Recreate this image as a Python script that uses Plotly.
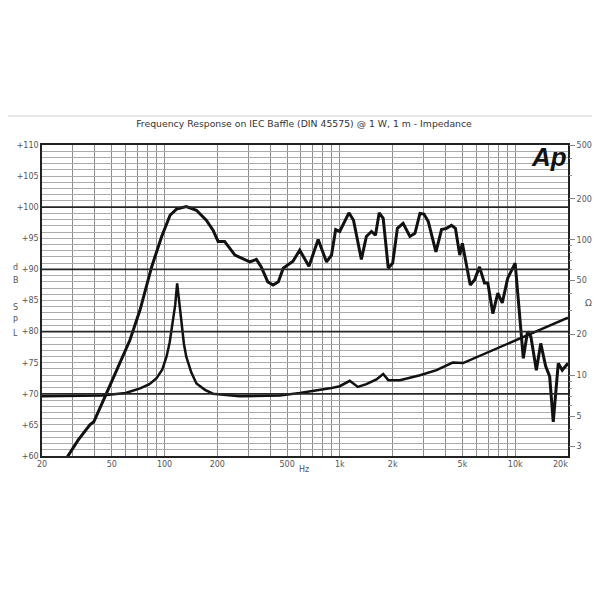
import numpy as np
import plotly.graph_objects as go

# ---- data ----
spl_freq = [26, 32.2, 37.5, 39.5, 45.7, 63.4, 72.5, 84.4, 96.3, 107.5, 117, 133, 152, 173, 189,
            202, 220, 252, 306, 334, 356, 388, 416, 446, 475, 540, 590, 666, 752, 839, 896,
            946, 998, 1126, 1196, 1326, 1416, 1514, 1596, 1676, 1766, 1888, 2000, 2128, 2294,
            2508, 2680, 2862, 3016, 3192, 3530, 3800, 4056, 4330, 4560, 4826, 4994, 5540,
            5858, 6256, 6680, 6980, 7452, 7960, 8434, 9066, 9992, 11120, 11760, 12280, 13200,
            13980, 14920, 15720, 16480, 17600, 18540, 20000]
spl_db = [58.5, 62.6, 65.0, 65.5, 69.5, 78.6, 83.5, 90.4, 95.3, 98.7, 99.7, 100.1, 99.5, 97.9, 96.3,
          94.5, 94.5, 92.3, 91.2, 91.6, 90.4, 88.0, 87.5, 88.0, 90.2, 91.3, 93.1, 90.5, 94.8, 91.2, 92.3,
          96.4, 96.1, 99.1, 97.9, 91.6, 95.3, 96.1, 95.5, 99.1, 98.2, 90.2, 91.0, 96.6, 97.4,
          95.3, 95.8, 99.0, 98.9, 97.7, 92.8, 96.4, 96.6, 97.1, 96.6, 92.3, 94.2, 87.5,
          88.3, 90.4, 87.8, 87.8, 82.9, 86.2, 84.6, 88.6, 91.0, 75.7, 80.0, 79.2, 73.8,
          78.1, 74.4, 72.8, 65.5, 74.9, 73.8, 74.9]

imp_freq = [20, 44, 60, 72.5, 82, 90, 97, 102.6, 107, 111, 115, 118, 121, 125, 129, 133, 142, 152,
            170, 189, 268, 454, 590, 876, 998, 1138, 1266, 1416, 1616, 1766, 1888, 2198, 2862,
            3558, 4400, 5040, 6256, 7792, 9690, 12000, 14920, 20000]
imp_ohm = [7.0, 7.1, 7.4, 8.0, 8.6, 9.5, 11.0, 13.7, 17.5, 24.2, 33.0, 47.6, 35.0, 22.8, 17.0, 13.7, 10.5, 8.7,
           7.8, 7.3, 7.0, 7.1, 7.4, 8.0, 8.3, 9.1, 8.2, 8.6, 9.3, 10.2, 9.2, 9.2, 10.0,
           10.9, 12.4, 12.3, 13.9, 15.8, 17.7, 20.0, 22.8, 26.6]

x_labels = {20: "20", 50: "50", 100: "100", 200: "200", 500: "500", 1000: "1k", 2000: "2k",
            5000: "5k", 10000: "10k", 20000: "20k\u00a0\u00a0\u00a0\u00a0\u00a0\u00a0"}
db_labels = {v: "+%d" % v for v in range(60, 111, 5)}
ohm_ticks = [3, 5, 10, 20, 50, 100, 200, 500]

title = "Frequency Response on IEC Baffle (DIN 45575) @ 1 W, 1 m - Impedance"

# gridline positions
x_grid = [m * 10 ** e for e in range(1, 5) for m in range(1, 10) if 20 <= m * 10 ** e <= 20000]
x_major = [200, 2000]
db_grid = list(range(60, 111))
db_major = [70, 80, 90, 100]
ohm_minor = [m * 10 ** e for e in range(0, 3) for m in range(2, 10)
             if 2.6 < m * 10 ** e < 500 and m * 10 ** e not in ohm_ticks]

FONT = "DejaVu Sans"
TICKC = "#555555"
W = H = 592  # page body has an 8px margin inside the 600px window

fig = go.Figure()
fig.add_trace(go.Scatter(x=imp_freq, y=imp_ohm, xaxis="x", yaxis="y2", mode="lines",
                         line=dict(color="#111111", width=2.5), showlegend=False))
fig.add_trace(go.Scatter(x=spl_freq, y=spl_db, xaxis="x", yaxis="y", mode="lines",
                         line=dict(color="#111111", width=3), showlegend=False))

xr = [np.log10(20), np.log10(20000)]
fig.update_layout(
    width=W, height=H,
    margin=dict(l=34, r=32, t=137, b=144, autoexpand=False),
    paper_bgcolor="white", plot_bgcolor="white",
    title=dict(text=title, x=296 / W, xanchor="center", y=1 - 116 / H, yanchor="middle",
               font=dict(family=FONT, size=9.3, color="#333333")),
    xaxis=dict(type="log", range=xr, tickmode="array", tickvals=x_grid,
               ticktext=[x_labels.get(v, "") for v in x_grid],
               showgrid=True, gridcolor="#8c8c8c", gridwidth=1, zeroline=False, ticks="",
               tickfont=dict(family=FONT, size=8, color=TICKC), automargin=False,
               showline=True, mirror=True, linecolor="#222222", linewidth=1.5),
    yaxis=dict(range=[60, 110], tickmode="array", tickvals=db_grid,
               ticktext=[db_labels.get(v, "") for v in db_grid],
               showgrid=True, gridcolor="#ababab", gridwidth=1, automargin=False,
               zeroline=False, ticks="", tickfont=dict(family=FONT, size=8, color=TICKC),
               showline=True, mirror=True, linecolor="#222222", linewidth=1.5),
    yaxis2=dict(type="log", range=[np.log10(2.535), np.log10(500)], overlaying="y", side="right",
                anchor="x", tickmode="array", tickvals=ohm_ticks, ticktext=[str(v) for v in ohm_ticks],
                showgrid=False, zeroline=False, ticks="outside", ticklen=6, tickcolor="#888888",
                tickwidth=1, tickfont=dict(family=FONT, size=8, color=TICKC), automargin=False,
                minor=dict(tickmode="array", tickvals=ohm_minor, ticks="outside", ticklen=3,
                           tickcolor="#999999", showgrid=False)),
)

# heavy gridlines (2 x 10^n decades and every 10 dB)
for v in x_major:
    fig.add_shape(type="line", xref="x", yref="paper", x0=np.log10(v), x1=np.log10(v), y0=0, y1=1,
                  layer="above", line=dict(color="#262626", width=1.8))
for v in db_major:
    fig.add_shape(type="line", xref="paper", yref="y", x0=0, x1=1, y0=v, y1=v,
                  layer="above", line=dict(color="#262626", width=1.8))


def px(X):  # window pixel -> paper coordinate
    return (X - 42) / 526


def py(Y):
    return (456 - Y) / 311


# top rule
fig.add_shape(type="line", xref="paper", yref="paper", x0=px(8), x1=px(598), y0=py(116), y1=py(116),
              line=dict(color="#d0d0d0", width=1))

# Ap logo
fig.add_annotation(text="<b><i>Ap</i></b>", xref="paper", yref="paper", x=px(549), y=py(157),
                   showarrow=False, xanchor="center", yanchor="middle",
                   font=dict(family="Liberation Sans", size=26, color="#111111"))
# Hz
fig.add_annotation(text="Hz", xref="paper", yref="paper", x=px(304), y=py(476), showarrow=False,
                   font=dict(family=FONT, size=8, color=TICKC))
# Ohm
fig.add_annotation(text="Ω", xref="paper", yref="paper", x=px(594), y=py(303), showarrow=False,
                   font=dict(family=FONT, size=9, color=TICKC))
# dB SPL vertical letters
for ch, Y in zip(["d", "B", "S", "P", "L"], [267, 280, 307, 320, 333]):
    fig.add_annotation(text=ch, xref="paper", yref="paper", x=px(11), y=py(Y), showarrow=False,
                       font=dict(family=FONT, size=8, color=TICKC))

fig.write_html("out.html")
